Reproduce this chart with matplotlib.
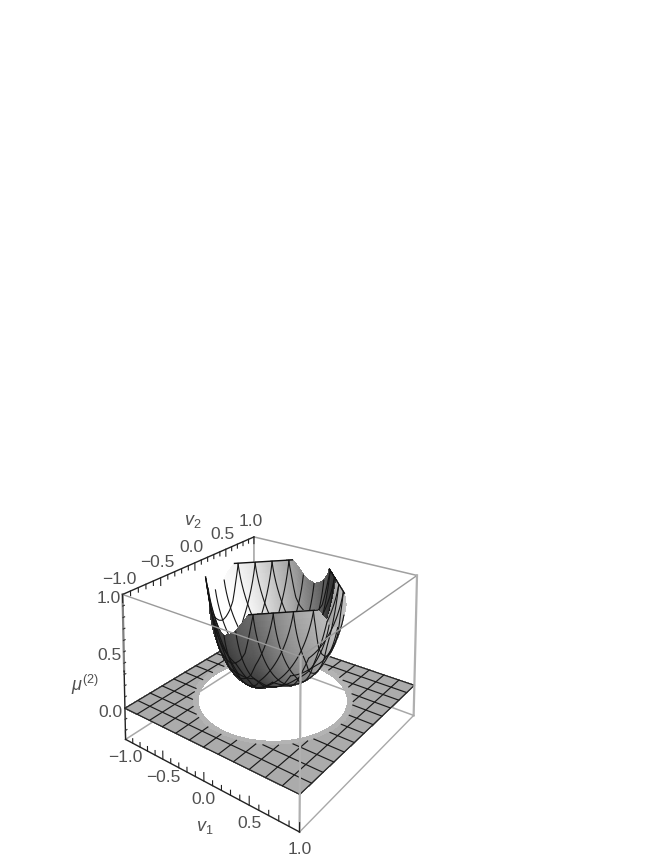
import numpy as np
import matplotlib
matplotlib.use('Agg')
import matplotlib.pyplot as plt

plt.rcParams['font.family'] = ['Liberation Sans', 'DejaVu Sans']
plt.rcParams['mathtext.fontset'] = 'custom'
plt.rcParams['mathtext.rm'] = 'Liberation Sans'
plt.rcParams['mathtext.it'] = 'Liberation Sans:italic'
plt.rcParams['mathtext.bf'] = 'Liberation Sans:bold'

W, H = 664, 860
z_low = -0.28

# box corners: (v1, v2, mu) and where they land in pixels
corner_world = np.array([[-1, -1, 1], [-1, 1, 1], [1, 1, 1], [1, -1, 1],
                         [-1, -1, z_low], [-1, 1, z_low], [1, 1, z_low], [1, -1, z_low],
                         [-1, -1, 0], [1, 1, 0], [1, -1, 0]], dtype=float)
corner_px = np.array([[122, 595], [254, 537], [418, 576], [300, 656],
                      [125, 740], [254, 656], [414, 717], [300, 833],
                      [126, 708], [413, 684], [300, 793]], dtype=float)

# surface readings
hole_radius = 0.72
band_width = 0.05
chord_dist = 0.62
bowl_bottom = 0.13
bowl_round = 0.97
rim_deg = [0, 5, 10, 14, 19]
rim_z = [0.80, 0.82, 0.86, 0.92, 1.0]
plane_mesh = np.arange(-5, 6) / 6.0
bowl_mesh = np.arange(-7, 8) / 8.0

tick_v = np.arange(-10, 11) / 10.0
v1_labels = ['\u22121.0', '\u22120.5', '0.0', '0.5', '1.0']
v2_labels = ['\u22121.0', '\u22120.5', '0.0', '0.5', '1.0']
z_labels = ['0.0', '0.5', '1.0']
label_pos = [-1.0, -0.5, 0.0, 0.5, 1.0]
z_pos = [0.0, 0.5, 1.0]


def fit_camera(world, px):
    rows = []
    for (x, y, z), (u, v) in zip(world, px):
        rows.append([x, y, z, 1, 0, 0, 0, 0, -u*x, -u*y, -u*z, -u])
        rows.append([0, 0, 0, 0, x, y, z, 1, -v*x, -v*y, -v*z, -v])
    p = np.linalg.svd(np.array(rows))[2][-1].reshape(3, 4)
    if p[2] @ np.array([0, 0, 0, 1]) < 0:
        p = -p
    return p


cam = fit_camera(corner_world, corner_px)


def to_px(x, y, z):
    h = cam @ np.array([x, y, z, 1.0])
    return h[0]/h[2], h[1]/h[2]


def rim(theta):
    d = np.mod(np.degrees(theta), 90.0)
    d = np.minimum(d, 90.0 - d)
    rho = np.minimum(hole_radius, chord_dist / np.cos(np.radians(45.0 - d)))
    return rho, np.interp(d, rim_deg, rim_z)


def wall(s):
    # round bottom, steep near the rim
    return (1 - np.sqrt(1 - (bowl_round * s) ** 2)) / (1 - np.sqrt(1 - bowl_round ** 2))


def bowl(r, theta):
    rho, zr = rim(theta)
    s = np.minimum(r / rho, 1.0)
    z = bowl_bottom + (zr - bowl_bottom) * wall(s)
    z = np.where(r > rho, np.nan, z)
    return z


def bowl_colors(S, T, flip):
    # shade from a plain round bowl, so the scallops of the rim leave no stripes
    X = 0.68 * S * np.cos(T)
    Y = 0.68 * S * np.sin(T)
    Z = bowl_bottom + (1 - bowl_bottom) * wall(S)
    a = np.stack([np.gradient(X, axis=1), np.gradient(Y, axis=1), np.gradient(Z, axis=1)], -1)
    b = np.stack([np.gradient(X, axis=0), np.gradient(Y, axis=0), np.gradient(Z, axis=0)], -1)
    n = np.cross(a, b)
    n = n / (np.linalg.norm(n, axis=-1, keepdims=True) + 1e-12)
    n = n * np.sign(n[..., 2:3] + 1e-12) * flip
    light = np.array([0.85, 0.1, 0.5])
    light = light / np.linalg.norm(light)
    if flip > 0:
        g = 0.46 + 0.58 * (n @ light)
    else:
        g = 0.36 + 0.52 * (n @ light)
    g = np.clip(g, 0.22, 1)
    return np.dstack([g, g, g, np.ones_like(g)])


fig = plt.figure(figsize=(W/100, H/100), dpi=100)
ax = fig.add_axes([0, 0, 1, W/H], projection='3d', computed_zorder=False)
ax.set_axis_off()
ax.set_xlim(-1, 1)
ax.set_ylim(-1, 1)
ax.set_zlim(z_low, 1)


def edge(a, b, color, lw, zorder):
    ax.plot([a[0], b[0]], [a[1], b[1]], [a[2], b[2]], color=color, lw=lw, zorder=zorder)


# back edges, behind everything
g1 = '#a0a0a0'
edge((-1, 1, 1), (-1, 1, z_low), g1, 1.1, 1)
edge((-1, 1, 1), (1, 1, 1), g1, 1.1, 1)
edge((-1, -1, z_low), (-1, 1, z_low), '#a8a8a8', 1.1, 1)
edge((-1, 1, z_low), (1, 1, z_low), '#a8a8a8', 1.1, 1)
edge((-1, -1, 1), (-1, 1, 1), '#222222', 1.0, 1)

# plane with the round hole
pv = np.linspace(-1, 1, 161)
PX, PY = np.meshgrid(pv, pv)
PR = np.hypot(PX, PY)
pc = np.zeros(PX.shape + (4,))
pc[PR >= hole_radius + band_width] = [0.67, 0.67, 0.67, 1]
ax.plot_surface(PX, PY, np.zeros_like(PX), facecolors=pc, rstride=1, cstride=1,
                shade=False, linewidth=0.4, antialiased=False, zorder=2)
# lighter band round the hole
ar, at = np.meshgrid(np.linspace(hole_radius, hole_radius + band_width + 0.02, 6),
                     np.radians(np.linspace(0, 360, 241)))
ac = np.full(ar.shape + (4,), 1.0)
ac[..., :3] = 0.70
ac[ar >= hole_radius + band_width] = [0.67, 0.67, 0.67, 1]
ax.plot_surface(ar*np.cos(at), ar*np.sin(at), np.zeros_like(ar), facecolors=ac, rstride=1, cstride=1,
                shade=False, linewidth=0.4, antialiased=False, zorder=2.1)
line_t = np.linspace(-1, 1, 401)
for c in list(plane_mesh):
    r = np.hypot(c, line_t)
    keep = np.where(r < hole_radius + band_width, np.nan, 0.0)
    ax.plot(np.full_like(line_t, c), line_t, keep, color='#1a1a1a', lw=0.85, zorder=2.5)
    ax.plot(line_t, np.full_like(line_t, c), keep, color='#1a1a1a', lw=0.85, zorder=2.5)
for c in [-1, 1]:
    ax.plot(np.full_like(line_t, c), line_t, 0*line_t, color='#222222', lw=0.9, zorder=2.5)
    ax.plot(line_t, np.full_like(line_t, c), 0*line_t, color='#222222', lw=0.9, zorder=2.5)

# bowl, back half first and then the front half so it hides the lower back wall
halves = [(np.radians(np.linspace(45, 225, 361)), 1, 3, lambda d: d <= 0),
          (np.radians(np.linspace(225, 405, 361)), -1, 5, lambda d: d > 0)]
s = np.linspace(0.01, 1, 70)
for th, flip, zo, side in halves:
    S, T = np.meshgrid(s, th)
    rho, zr = rim(T)
    R = S * rho
    X = R * np.cos(T)
    Y = R * np.sin(T)
    Z = bowl_bottom + (zr - bowl_bottom) * wall(S)
    ax.plot_surface(X, Y, Z, facecolors=bowl_colors(S, T, flip), rstride=1, cstride=1,
                    shade=False, linewidth=0.3, antialiased=False, zorder=zo)
    dense = np.linspace(-1, 1, 1601)
    for c in bowl_mesh:
        for vx, vy in [(np.full_like(dense, c), dense), (dense, np.full_like(dense, c))]:
            r = np.hypot(vx, vy)
            th2 = np.arctan2(vy, vx)
            zz = bowl(r, th2)
            zz = np.where(side(vx - vy), zz, np.nan)
            ax.plot(vx, vy, zz, color='#151515', lw=0.8, zorder=zo + 0.5)
    # rim
    rz = np.where(zr[:, -1] >= 1.0, 1.0, np.nan)
    ax.plot(rho[:, -1]*np.cos(th), rho[:, -1]*np.sin(th), rz, color='#111111', lw=1.0, zorder=zo + 0.6)

# front edges on top
g2 = '#b0b0b0'
edge((-1, -1, 1), (1, -1, 1), '#9a9a9a', 1.0, 7)
edge((1, -1, 1), (1, 1, 1), '#9a9a9a', 1.0, 7)
edge((1, -1, 1), (1, -1, z_low), g2, 1.6, 7)
edge((1, 1, 1), (1, 1, z_low), g2, 1.6, 7)
edge((1, -1, z_low), (1, 1, z_low), '#a8a8a8', 1.0, 7)
edge((-1, -1, 1), (-1, -1, 0.33), '#808080', 1.6, 7)
edge((-1, -1, 0.33), (-1, -1, z_low), '#222222', 1.0, 7)
edge((-1, -1, z_low), (1, -1, z_low), '#222222', 1.0, 7)

# ticks
for t in tick_v:
    major = abs(t * 2 - round(t * 2)) < 1e-6
    ln = 0.07 if major else 0.04
    edge((-1, t, 1), (-1, t, 1 - ln), '#222222', 0.8, 7)
    edge((t, -1, z_low), (t, -1, z_low + ln), '#222222', 0.8, 7)
for t in np.arange(-2, 11) / 10.0:
    edge((-1, -1, t), (-1, -1 + 0.02, t), '#333333', 0.8, 7)

# tick labels
lab = dict(color='#505050', fontsize=12.5, ha='center', va='center')


def put(px, py, txt, **kw):
    fig.text(px / W, 1 - py / H, txt, **{**lab, **kw})


for p, t in zip(label_pos, v2_labels):
    x, y = to_px(-1, p, 1)
    put(x - 3, y - 15, t)
for p, t in zip(label_pos, v1_labels):
    x, y = to_px(p, -1, z_low)
    put(x + 0, y + 18, t)
for p, t in zip(z_pos, z_labels):
    x, y = to_px(-1, -1, p)
    put(x - 14, y + 4, t)
put(193, 522, r'$\mathit{v}_2$', fontsize=13)
put(205, 828, r'$\mathit{v}_1$', fontsize=13)
put(85, 685, r'$\mu^{(2)}$', fontsize=13)

# hand the fitted camera to the 3d axes, in its own 2d coordinates
ax.apply_aspect()
inv = ax.transData.inverted()
# pixel (x, y down) to display (x, y up)
to_disp = np.array([[1.0, 0, 0], [0, -1.0, H], [0, 0, 1.0]])
p2 = inv.get_matrix() @ to_disp @ cam
M = np.vstack([p2[0], p2[1], [0, 0, 0, -1.0], p2[2]])
ax.get_proj = lambda: M

fig.savefig('out.png', dpi=100)
